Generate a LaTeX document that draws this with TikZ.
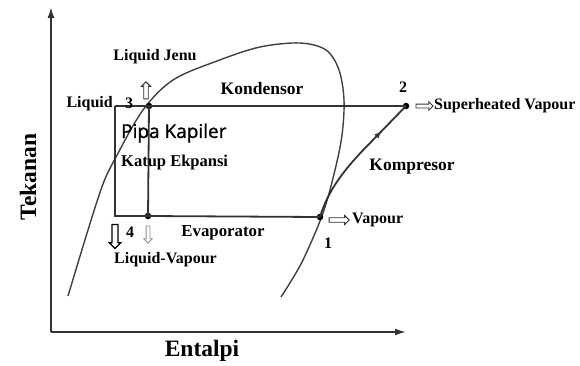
\documentclass[tikz,border=0pt]{standalone}
\usepackage{fontspec}
\setmainfont{Liberation Serif}
\newfontfamily\pipafont[FakeBold=1.2]{Open Sans}
\usetikzlibrary{arrows.meta,shapes.arrows,decorations.markings}
\tikzset{
  axisline/.style={line width=1.8pt, draw=black!80, -{Latex[length=11pt,width=7pt]}},
  cycleline/.style={line width=1.8pt, draw=black!80},
  domeline/.style={line width=1.4pt, draw=black!75},
  dotnode/.style={circle, fill=black, inner sep=0pt, minimum size=6.5pt},
  lbl/.style={font=\bfseries\fontsize{16}{18}\selectfont, inner sep=0pt},
  biglbl/.style={font=\bfseries\fontsize{17.5}{20}\selectfont, inner sep=0pt},
  axlbl/.style={font=\bfseries\fontsize{23.5}{26}\selectfont, inner sep=0pt},
  hollowarrow/.style={single arrow, draw=black!80, fill=white, line width=0.9pt,
    inner sep=1.8pt, single arrow head extend=2.3pt,
    single arrow head indent=0pt},
}
\begin{document}
\begin{tikzpicture}[x=1pt,y=-1pt]
\useasboundingbox (0,0) rectangle (580,365);
% axes
\coordinate (origin) at (51,332);
\coordinate (ytop) at (51,7);
\coordinate (xright) at (406,332);
\draw[axisline] (origin) -- (ytop);
\draw[axisline] (origin) -- (xright);
\node[axlbl, rotate=90] (tek) at (28,177) {Tekanan};
\node[axlbl] (ent) at (202,351) {Entalpi};
% dome
\draw[domeline] plot[smooth, tension=0.55] coordinates {
  (68,296) (88,230) (103,184) (116,157) (143,110) (173,80) (217,61)
  (260,47) (300,43) (326,50) (339,70) (344,100) (342,135) (335,170)
  (323,213) (302,262) (281,297)};
% cycle points
\coordinate (cl) at (115,106);
\coordinate (cb) at (115,216);
\node[dotnode] (p3) at (149,106) {};
\node[dotnode] (p2) at (406,106) {};
\node[dotnode] (p4) at (148,216) {};
\node[dotnode] (p1) at (320,217) {};
\draw[cycleline] (cl) -- (p3.center) -- (p2.center);
\draw[cycleline] (cl) -- (cb) -- (p4.center) -- (p1.center);
\draw[cycleline] (p3.center) -- (p4.center);
\draw[cycleline, postaction={decorate}, decoration={markings,
    mark=at position 0.75 with {\arrow{Latex[length=7pt,width=6pt]}}}]
  (p1.center) .. controls (328,190) and (345,168) .. (372,141) -- (p2.center);
% hollow arrows
\node[hollowarrow, shape border rotate=90, minimum height=17pt] (ajenu) at (146,91.5) {};
\node[hollowarrow, minimum height=17pt, inner sep=1.5pt] (asup) at (423.5,106) {};
\node[hollowarrow, minimum height=20pt] (avap) at (338,220) {};
\node[hollowarrow, shape border rotate=270, minimum height=24pt, inner sep=2.3pt,
  single arrow head extend=2.8pt, line width=1.3pt, draw=black] (a4) at (115,235) {};
\node[hollowarrow, shape border rotate=270, minimum height=17pt, inner sep=1.5pt,
  draw=black!45] (a4s) at (148,233.5) {};
% labels
\node[lbl] (tjenu) at (155,57) {Liquid Jenu};
\node[biglbl] (tkond) at (262,89) {Kondensor};
\node[lbl] (t2) at (403,87) {2};
\node[lbl, anchor=west] (tsup) at (434,106) {Superheated Vapour};
\node[lbl, anchor=east] (tliq) at (113,104) {Liquid};
\node[lbl] (t3) at (129,103) {3};
\node[inner sep=0pt, anchor=west, font=\pipafont\fontsize{19}{22}\selectfont] (tpipa) at (121,133) {Pipa Kapiler};
\node[lbl, anchor=west, font=\bfseries\fontsize{16.5}{19}\selectfont] (tkatup) at (121,163) {Katup Ekpansi};
\node[biglbl] (tkomp) at (412,167) {Kompresor};
\node[lbl, anchor=west] (tvap) at (352,220) {Vapour};
\node[lbl] (t1) at (328,243) {1};
\node[lbl] (t4) at (130,232) {4};
\node[lbl, font=\bfseries\fontsize{16.8}{19}\selectfont] (tevap) at (223,233) {Evaporator};
\node[lbl, anchor=west] (tlv) at (114,260) {Liquid-Vapour};
\end{tikzpicture}
\end{document}
